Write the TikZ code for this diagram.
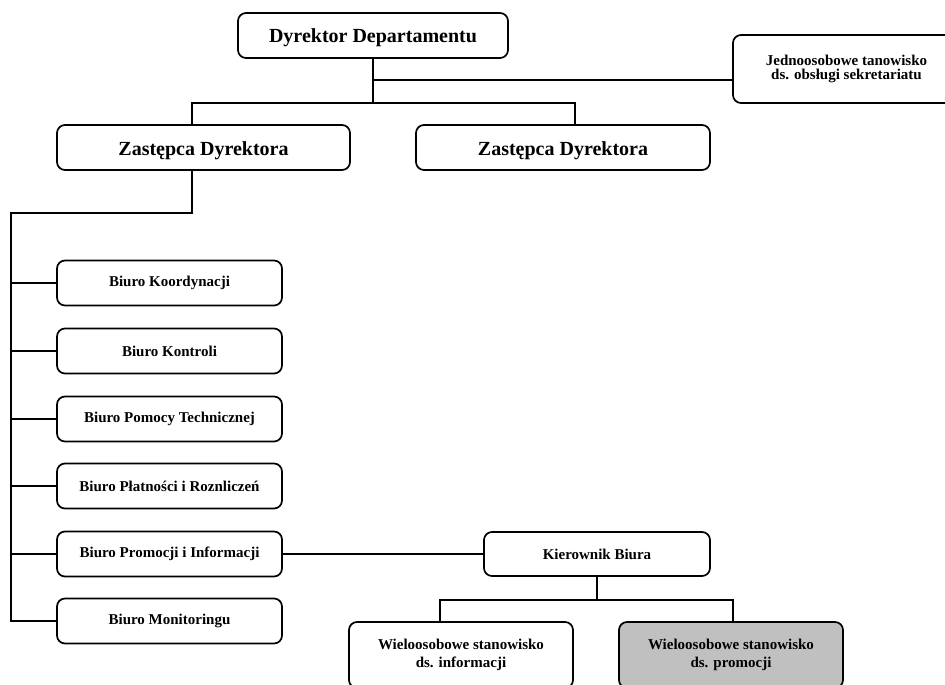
\documentclass[tikz,border=0pt]{standalone}
\usepackage{fontspec}
\setmainfont{Liberation Serif}
\definecolor{boxgray}{RGB}{192,192,192}
\begin{document}
\begin{tikzpicture}[x=1pt,y=-1pt,
  box/.style={draw=black, line width=1.7pt, rounded corners=8pt, fill=white,
    inner sep=0pt, align=center, anchor=center},
  big/.style={box, font=\fontsize{20}{24}\selectfont\bfseries, text height=15pt, text depth=0pt},
  small/.style={box, font=\fontsize{15}{18}\selectfont\bfseries},
  conn/.style={draw=black, line width=1.7pt}]
\useasboundingbox (0,0) rectangle (945,685);
\clip (0,0) rectangle (945,685);
% nodes
\node[big, minimum width=270pt, minimum height=45pt] (dyr) at (373,35.5) {Dyrektor Departamentu};
\node[small, font=\fontsize{15}{14.3}\selectfont\bfseries, minimum width=227pt, minimum height=68pt] (sek) at (846.5,69) {Jednoosobowe tanowisko\\ds. obsługi sekretariatu};
\node[big, minimum width=293pt, minimum height=45pt] (z1) at (203.5,147.5) {Zastępca Dyrektora};
\node[big, minimum width=294pt, minimum height=45pt] (z2) at (563,147.5) {Zastępca Dyrektora};
\node[small, minimum width=225pt, minimum height=45pt] (b1) at (169.5,283) {Biuro Koordynacji};
\node[small, minimum width=225pt, minimum height=45pt] (b2) at (169.5,351) {Biuro Kontroli};
\node[small, minimum width=225pt, minimum height=45pt] (b3) at (169.5,419) {Biuro Pomocy Technicznej};
\node[small, minimum width=225pt, minimum height=45pt] (b4) at (169.5,486) {Biuro Płatności i Roznliczeń};
\node[small, minimum width=225pt, minimum height=45pt] (b5) at (169.5,554) {Biuro Promocji i Informacji};
\node[small, minimum width=225pt, minimum height=45pt] (b6) at (169.5,621) {Biuro Monitoringu};
\node[small, minimum width=226pt, minimum height=44pt] (kier) at (597,554) {Kierownik Biura};
\node[small, minimum width=224pt, minimum height=66pt] (w1) at (461,655) {Wieloosobowe stanowisko\\ds. informacji};
\node[small, fill=boxgray, minimum width=224pt, minimum height=66pt] (w2) at (731,655) {Wieloosobowe stanowisko\\ds. promocji};
% junction coordinates
\coordinate (jsek) at (373,80);
\coordinate (jz) at (373,103);
\coordinate (bus) at (11,213);
\coordinate (jk) at (597,600);
% connectors
\draw[conn] (dyr.south) -- (jz);
\draw[conn] (jsek) -- (sek.west |- jsek);
\draw[conn] ([xshift=-11.5pt]z1.north) |- (jz) -| ([xshift=12pt]z2.north);
\draw[conn] ([xshift=-11.5pt]z1.south) |- (bus) |- (b6.west);
\draw[conn] (b1.west) -- (b1.west -| bus);
\draw[conn] (b2.west) -- (b2.west -| bus);
\draw[conn] (b3.west) -- (b3.west -| bus);
\draw[conn] (b4.west) -- (b4.west -| bus);
\draw[conn] (b5.west) -- (b5.west -| bus);
\draw[conn] (b5.east) -- (kier.west);
\draw[conn] (kier.south) -- (jk);
\draw[conn] ([xshift=-21pt]w1.north) |- (jk) -| ([xshift=2pt]w2.north);
\end{tikzpicture}
\end{document}
